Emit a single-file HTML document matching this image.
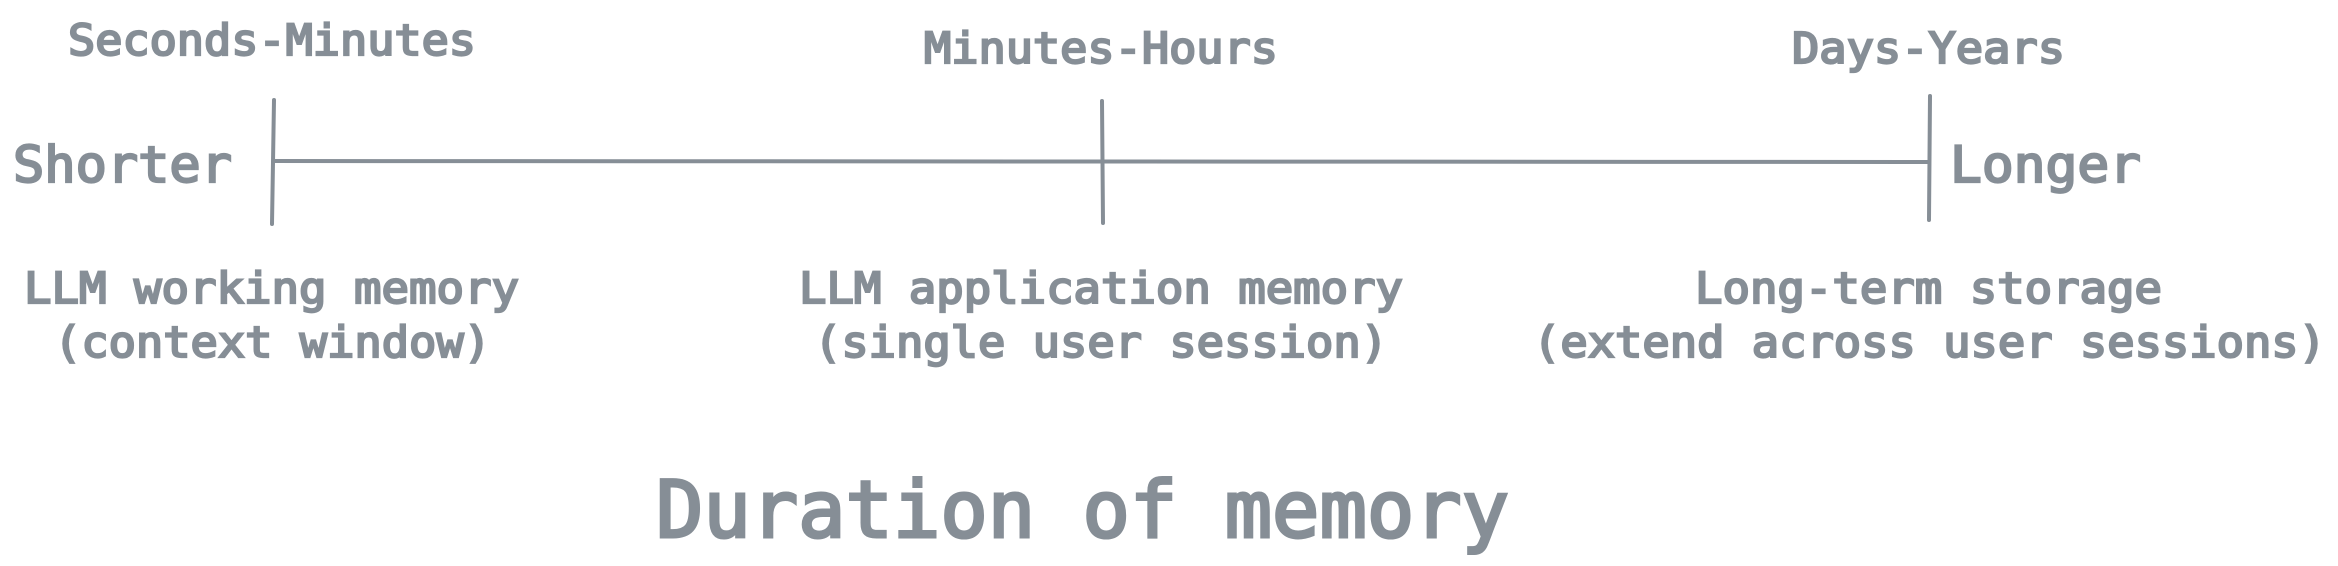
<!DOCTYPE html>
<html><head><meta charset="utf-8"><style>
html,body{margin:0;padding:0;background:#fff;}
svg{display:block;}
text{font-family:"DejaVu Sans Mono","Liberation Mono",monospace;fill:#868e96;stroke:#868e96;stroke-width:2.2;font-weight:normal;}
</style></head><body>
<svg width="2338" height="566" viewBox="0 0 2338 566" xmlns="http://www.w3.org/2000/svg">
<g stroke="#868e96" stroke-width="4" stroke-linecap="round" fill="none">
<line x1="274" y1="161" x2="1929" y2="162"/>
<line x1="274" y1="100" x2="272" y2="224"/>
<line x1="1102" y1="101" x2="1103" y2="223"/>
<line x1="1930" y1="96" x2="1929" y2="220"/>
</g>
<text x="68" y="55" font-size="43" textLength="408" lengthAdjust="spacingAndGlyphs">Seconds-Minutes</text>
<text x="924" y="63" font-size="43" textLength="354" lengthAdjust="spacingAndGlyphs">Minutes-Hours</text>
<text x="1792" y="63" font-size="43" textLength="273" lengthAdjust="spacingAndGlyphs">Days-Years</text>
<text x="13" y="182" font-size="50" textLength="219" lengthAdjust="spacingAndGlyphs">Shorter</text>
<text x="1950" y="182" font-size="50" textLength="191" lengthAdjust="spacingAndGlyphs">Longer</text>
<text x="24" y="303" font-size="43" textLength="495" lengthAdjust="spacingAndGlyphs">LLM working memory</text>
<text x="54" y="357" font-size="43" textLength="437" lengthAdjust="spacingAndGlyphs">(context window)</text>
<text x="799" y="303" font-size="43" textLength="604" lengthAdjust="spacingAndGlyphs">LLM application memory</text>
<text x="814" y="357" font-size="43" textLength="574" lengthAdjust="spacingAndGlyphs">(single user session)</text>
<text x="1695" y="303" font-size="43" textLength="467" lengthAdjust="spacingAndGlyphs">Long-term storage</text>
<text x="1533" y="357" font-size="43" textLength="793" lengthAdjust="spacingAndGlyphs">(extend across user sessions)</text>
<text x="656" y="537" font-size="78" style="stroke-width:3" textLength="853" lengthAdjust="spacingAndGlyphs">Duration of memory</text>
</svg>
</body></html>
